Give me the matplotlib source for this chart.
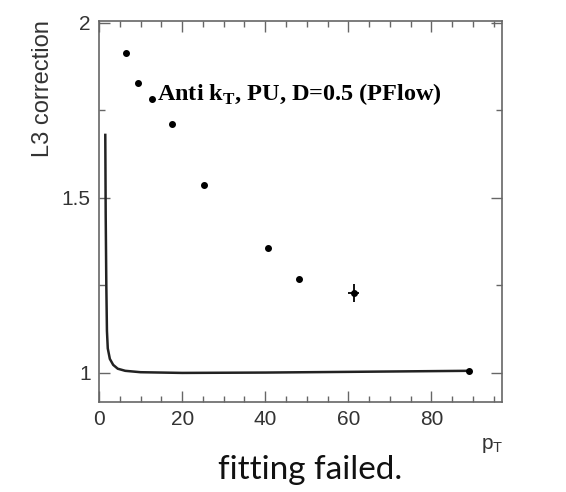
"""L3 correction vs pT with fitted response curve (fit did not converge)."""

import matplotlib.pyplot as plt
from matplotlib.ticker import MultipleLocator

plt.rcParams["mathtext.fontset"] = "custom"
plt.rcParams["mathtext.rm"] = "Liberation Sans"
plt.rcParams["mathtext.bf"] = "Liberation Serif:bold"

# Measured L3 correction points
pt = [6.5, 9.4, 12.8, 17.5, 25.2, 40.7, 48.2, 61.3, 89.0]
corr = [1.914, 1.829, 1.783, 1.711, 1.537, 1.357, 1.269, 1.229, 1.006]
pt_err = [0, 0, 0, 0, 0, 0, 0, 1.3, 0]
corr_err = [0, 0, 0, 0, 0, 0, 0, 0.025, 0]

# Fitted curve, sampled
fit_pt = [1.5, 1.6, 1.75, 1.9, 2.1, 2.6, 3.4, 4.5, 6.3, 10, 20, 40, 60, 89]
fit_corr = [1.68, 1.45, 1.25, 1.12, 1.07, 1.04, 1.023, 1.012, 1.006,
            1.002, 1.0, 1.001, 1.003, 1.006]

fig = plt.figure(figsize=(5.66, 4.92), dpi=100)
ax = fig.add_axes([0.175, 0.183, 0.712, 0.774])

ax.plot(fit_pt, fit_corr, color="#222222", lw=1.8)
ax.errorbar(pt, corr, xerr=pt_err, yerr=corr_err, fmt="o", color="black",
            markersize=4, elinewidth=1.3, capsize=0)

ax.set_xlim(0, 97)
ax.set_ylim(0.917, 2.005)
ax.xaxis.set_major_locator(MultipleLocator(20))
ax.xaxis.set_minor_locator(MultipleLocator(5))
ax.yaxis.set_major_locator(MultipleLocator(0.5))
ax.yaxis.set_minor_locator(MultipleLocator(0.25))
ax.yaxis.set_major_formatter(plt.FuncFormatter(lambda v, _: f"{v:g}"))

for s in ax.spines.values():
    s.set_color("#666666")
    s.set_linewidth(1.2)
ax.tick_params(which="both", direction="in", top=True, right=True,
               color="#666666", labelcolor="#333333", width=1)
ax.tick_params(which="major", length=8, pad=6, labelsize=15)
ax.tick_params(which="minor", length=4)
for lbl in ax.get_xticklabels() + ax.get_yticklabels():
    lbl.set_family("Liberation Sans")

ax.text(14.0, 1.78, r"Anti k$_\mathbf{T}$, PU, D=0.5 (PFlow)",
        family="Liberation Serif", fontweight="bold", fontsize=17.5,
        va="baseline", ha="left")

fig.text(0.076, 0.96, "L3 correction", rotation=90, ha="center", va="top",
         family="Liberation Sans", fontsize=17, color="#333333")
fig.text(0.85, 0.095, r"$\mathrm{p}_\mathrm{T}$", ha="left", va="center",
         fontsize=15, color="#333333")
fig.text(0.548, 0.045, "fitting failed.", ha="center", va="center",
         family="Lato", fontsize=24, color="#111111")

fig.savefig("out.png", dpi=100)
